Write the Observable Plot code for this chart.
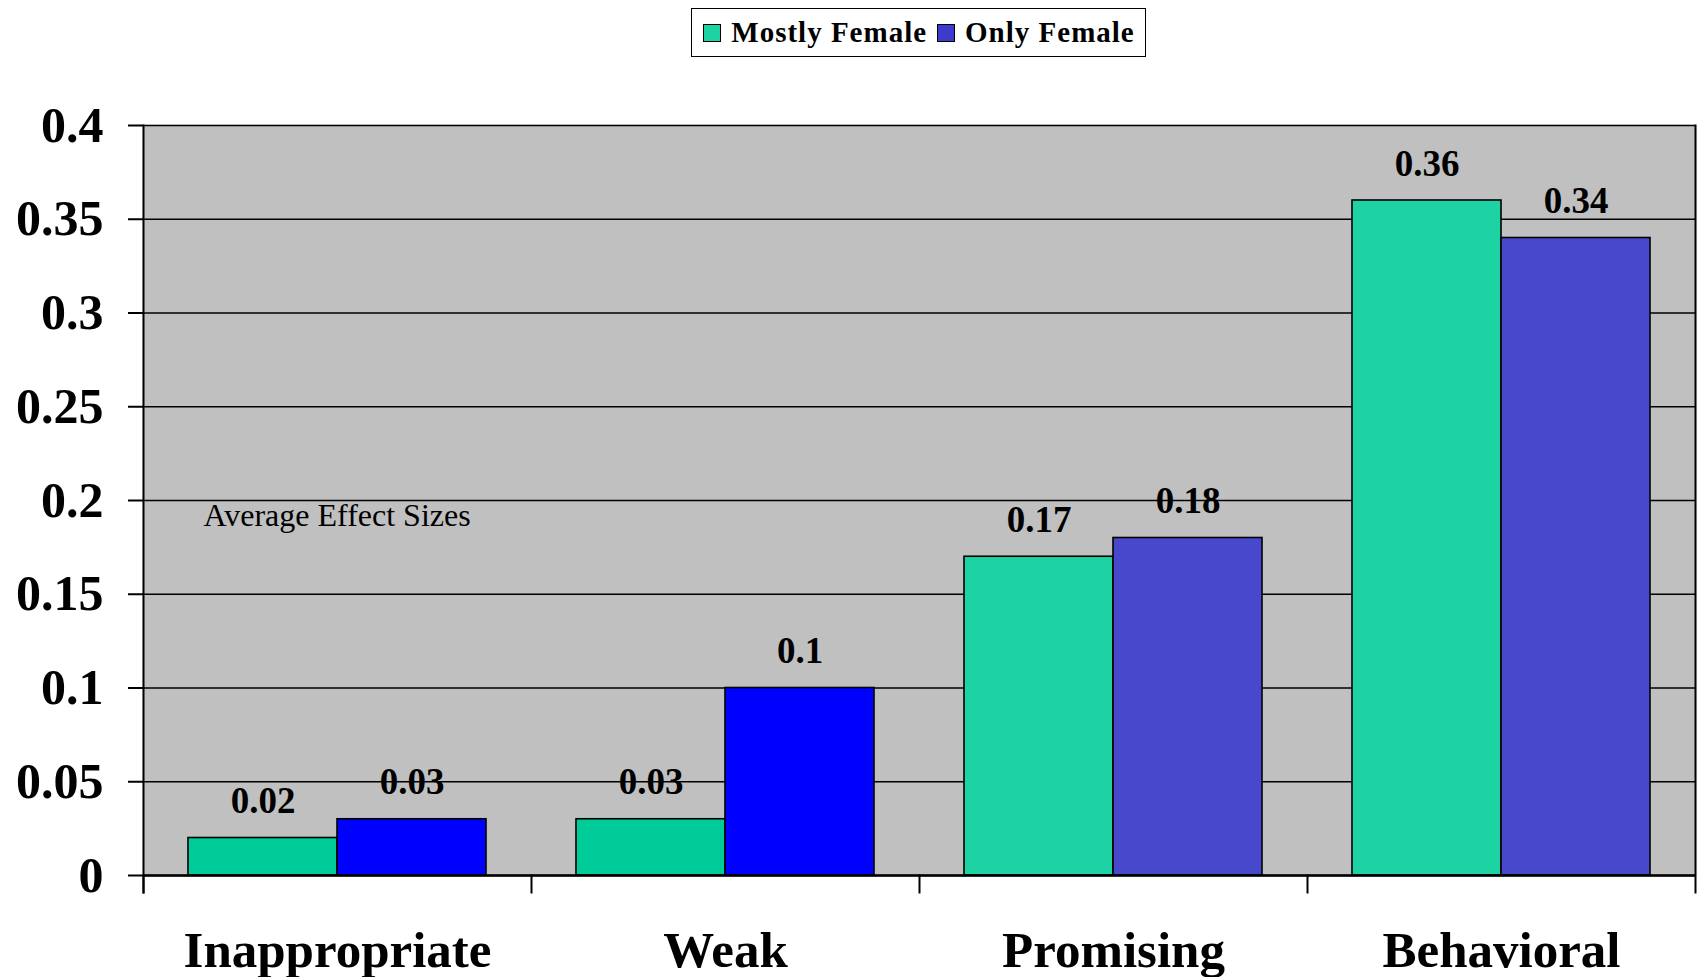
<!DOCTYPE html>
<html>
<head>
<meta charset="utf-8">
<script src="https://cdn.jsdelivr.net/npm/d3@7"></script>
<script src="https://cdn.jsdelivr.net/npm/@observablehq/plot@0.6"></script>
<style>
  html, body { margin: 0; padding: 0; background: white; overflow: hidden; }
  body { font-family: "Liberation Serif", "Times New Roman", serif; width: 1700px; }
  #legend { height: 62px; padding-left: 142px; padding-right: 5px; box-sizing: border-box; display: flex; justify-content: center; align-items: flex-start; }
  #legend .box { margin-top: 8px; height: 49px; box-sizing: border-box; border: 1.5px solid black; display: flex; align-items: center; padding: 0 10px 0 11px; gap: 10px; }
  #legend .item { display: flex; align-items: center; gap: 10px; font-weight: bold; font-size: 29px; letter-spacing: 1px; }
  #legend .sw { width: 18px; height: 18px; box-sizing: border-box; border: 1.5px solid black; }
</style>
</head>
<body>
<div id="legend"></div>
<div id="chart"></div>
<script>
const categories = ['Inappropriate', 'Weak', 'Promising', 'Behavioral']
const series = ['Mostly Female', 'Only Female']
const mostlyFemale = [0.02, 0.03, 0.17, 0.36]
const onlyFemale = [0.03, 0.1, 0.18, 0.34]
const yTicks = [0, 0.05, 0.1, 0.15, 0.2, 0.25, 0.3, 0.35, 0.4]
const note = 'Average Effect Sizes'

// the first two groups are drawn in plain colours, the last two in the shaded ones
const plainColors = {'Mostly Female': '#00cc99', 'Only Female': '#0000ff'}
const shadedColors = {'Mostly Female': '#1ed3a3', 'Only Female': '#4848cc'}
const legendColors = {'Mostly Female': '#1ed3a3', 'Only Female': '#3c3ccc'}

let data = []
categories.forEach((c, i) => {
  data.push({category: c, series: series[0], value: mostlyFemale[i], idx: i})
  data.push({category: c, series: series[1], value: onlyFemale[i], idx: i})
})

const barFill = d => (d.idx < 2 ? plainColors : shadedColors)[d.series]

// legend
const box = d3.select('#legend').append('div').attr('class', 'box')
series.forEach(s => {
  const it = box.append('div').attr('class', 'item')
  it.append('div').attr('class', 'sw').style('background', legendColors[s])
  it.append('span').text(s)
})

const plotHeight = 915
const mTop = 63, mBottom = 102

let chart = Plot.plot({
  width: 1700,
  height: plotHeight,
  marginTop: mTop,
  marginBottom: mBottom,
  marginLeft: 142,
  marginRight: 5,
  style: {
    fontFamily: '"Liberation Serif", "Times New Roman", serif',
    background: 'white',
    color: 'black'
  },
  fx: {domain: categories, padding: 0, label: null},
  x: {domain: series, paddingInner: 0, paddingOuter: 0.3, axis: null},
  y: {domain: [0, 0.4]},
  marks: [
    Plot.frame({fill: '#c0c0c0', stroke: '#c0c0c0', strokeWidth: 1.5}),
    Plot.ruleY(yTicks, {stroke: 'black', strokeWidth: 1.6}),
    Plot.barY(data, {
      fx: 'category',
      x: 'series',
      y: 'value',
      fill: barFill,
      stroke: 'black',
      strokeWidth: 1.6
    }),
    Plot.ruleY([0], {stroke: 'black', strokeWidth: 2.6}),
    Plot.frame({anchor: 'left', facetAnchor: 'left', stroke: 'black', strokeWidth: 2, insetBottom: -17}),
    Plot.frame({anchor: 'right', facetAnchor: 'right', stroke: 'black', strokeWidth: 2, insetBottom: -17}),
    Plot.frame({anchor: 'left', stroke: 'black', strokeWidth: 2, insetTop: plotHeight - mTop - mBottom, insetBottom: -17}),
    Plot.text(data, {
      fx: 'category',
      x: 'series',
      y: 'value',
      text: d => String(d.value),
      lineAnchor: 'bottom',
      dy: -25,
      fontSize: 37,
      fontWeight: 'bold'
    }),
    Plot.text([note], {
      fx: () => categories[0],
      text: d => d,
      frameAnchor: 'left',
      textAnchor: 'start',
      lineAnchor: 'top',
      dx: 60,
      dy: 3,
      fontSize: 32
    }),
    Plot.axisY({
      ticks: yTicks,
      tickFormat: d => String(d),
      tickSize: 15,
      tickPadding: 25,
      strokeWidth: 2,
      fontSize: 50,
      fontWeight: 'bold',
      label: null
    }),
    Plot.axisFx({
      anchor: 'bottom',
      tickSize: 0,
      tickPadding: 55,
      fontSize: 51,
      fontWeight: 'bold',
      label: null
    })
  ]
})

d3.select('#chart').append(() => chart)
</script>
</body>
</html>
